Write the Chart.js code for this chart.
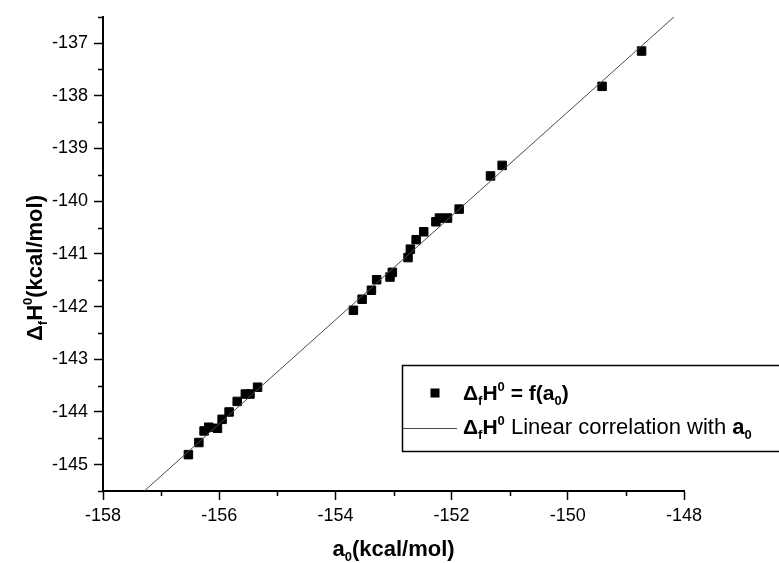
<!DOCTYPE html>
<html>
<head>
<meta charset="utf-8">
<script src="https://cdn.jsdelivr.net/npm/chart.js@4.4.1/dist/chart.umd.min.js"></script>
<style>
  html, body { margin: 0; padding: 0; background: #fff; }
  canvas { display: block; }
</style>
</head>
<body>
<canvas id="chart" width="779" height="563"></canvas>
<script>
// measured points: a0 vs formation enthalpy (kcal/mol)
const a0 = [-156.53, -156.35, -156.26, -156.18, -156.03, -155.95, -155.83, -155.69, -155.55, -155.47,
  -155.34, -153.69, -153.54, -153.38, -153.29, -153.06, -153.02, -152.75, -152.71, -152.61,
  -152.48, -152.27, -152.21, -152.07, -151.87, -151.33, -151.13, -149.41, -148.73];
const dHf = [-144.81, -144.58, -144.36, -144.29, -144.31, -144.14, -144.00, -143.80, -143.66, -143.66,
  -143.53, -142.07, -141.86, -141.69, -141.49, -141.44, -141.35, -141.07, -140.91, -140.73,
  -140.58, -140.39, -140.32, -140.32, -140.15, -139.52, -139.32, -137.82, -137.15];

// linear fit, ends of the drawn segment
const fitX = [-157.29, -148.17];
const fitY = [-145.5, -136.5];

const xTicks = [-158, -156, -154, -152, -150, -148];
const xMinor = [-157, -155, -153, -151, -149];
const yTicks = [-145, -144, -143, -142, -141, -140, -139, -138, -137];
const yMinor = [-145.5, -144.5, -143.5, -142.5, -141.5, -140.5, -139.5, -138.5, -137.5, -136.5];

const FONT = '"Liberation Sans", Arial, sans-serif';
const LINE_COLOR = '#4a4a4a';

// draw a list of text pieces (with sub/superscripts) starting at x
function drawRuns(ctx, runs, x, y) {
  let cx = x;
  for (const r of runs) {
    ctx.font = (r.bold ? 'bold ' : '') + r.size + 'px ' + FONT;
    ctx.fillText(r.t, cx, y + (r.dy || 0));
    cx += ctx.measureText(r.t).width;
  }
  return cx;
}
function runsWidth(ctx, runs) {
  let w = 0;
  for (const r of runs) {
    ctx.font = (r.bold ? 'bold ' : '') + r.size + 'px ' + FONT;
    w += ctx.measureText(r.t).width;
  }
  return w;
}

const extras = {
  id: 'extras',
  afterDraw(chart) {
    const ctx = chart.ctx;
    const xs = chart.scales.x, ys = chart.scales.y;
    const area = chart.chartArea;
    ctx.save();
    ctx.strokeStyle = '#000';
    ctx.lineWidth = 1.5;
    // minor ticks
    ctx.beginPath();
    for (const v of xMinor) {
      const p = Math.round(xs.getPixelForValue(v)) + 0.5;
      ctx.moveTo(p, area.bottom);
      ctx.lineTo(p, area.bottom + 5);
    }
    for (const v of yMinor) {
      const p = Math.round(ys.getPixelForValue(v)) + 0.5;
      ctx.moveTo(area.left - 5, p);
      ctx.lineTo(area.left, p);
    }
    ctx.stroke();

    ctx.fillStyle = '#000';
    ctx.textBaseline = 'alphabetic';
    ctx.textAlign = 'left';

    // x title
    const xt = [
      { t: 'a', size: 22, bold: true },
      { t: '0', size: 13, bold: true, dy: 5 },
      { t: '(kcal/mol)', size: 22, bold: true }
    ];
    const xc = (area.left + area.right) / 2;
    drawRuns(ctx, xt, xc - runsWidth(ctx, xt) / 2, 556);

    // y title, rotated
    const yt = [
      { t: '\u0394', size: 22, bold: true },
      { t: 'f', size: 13, bold: true, dy: 5 },
      { t: 'H', size: 22, bold: true },
      { t: '0', size: 13, bold: true, dy: -10 },
      { t: '(kcal/mol)', size: 22, bold: true }
    ];
    ctx.save();
    ctx.translate(42, 268);
    ctx.rotate(-Math.PI / 2);
    drawRuns(ctx, yt, -runsWidth(ctx, yt) / 2, 0);
    ctx.restore();

    // legend box
    ctx.lineWidth = 1.5;
    ctx.strokeRect(402.5, 365.5, 400, 86);
    ctx.fillRect(430.5, 388.5, 9, 9);
    drawRuns(ctx, [
      { t: '\u0394', size: 21, bold: true },
      { t: 'f', size: 13, bold: true, dy: 5 },
      { t: 'H', size: 21, bold: true },
      { t: '0', size: 13, bold: true, dy: -9 },
      { t: ' = f(a', size: 21, bold: true },
      { t: '0', size: 13, bold: true, dy: 5 },
      { t: ')', size: 21, bold: true }
    ], 463, 400);
    ctx.strokeStyle = LINE_COLOR;
    ctx.lineWidth = 1;
    ctx.beginPath();
    ctx.moveTo(403, 428.5);
    ctx.lineTo(457, 428.5);
    ctx.stroke();
    drawRuns(ctx, [
      { t: '\u0394', size: 21, bold: true },
      { t: 'f', size: 13, bold: true, dy: 5 },
      { t: 'H', size: 21, bold: true },
      { t: '0', size: 13, bold: true, dy: -9 },
      { t: ' Linear correlation with ', size: 22 },
      { t: 'a', size: 22, bold: true },
      { t: '0', size: 13, bold: true, dy: 5 }
    ], 463, 434);
    ctx.restore();
  }
};

const axisCommon = {
  type: 'linear',
  grid: { drawOnChartArea: false, drawTicks: true, tickLength: 9, tickWidth: 1.5, tickColor: '#000' },
  border: { display: true, color: '#000', width: 2 },
  ticks: { color: '#000', font: { family: FONT, size: 18 }, autoSkip: false, maxRotation: 0, padding: 5 },
  title: { display: false }
};

new Chart(document.getElementById('chart'), {
  type: 'scatter',
  data: {
    datasets: [
      {
        label: 'fit',
        type: 'line',
        data: fitX.map((x, i) => ({ x: x, y: fitY[i] })),
        borderColor: LINE_COLOR,
        borderWidth: 1,
        pointRadius: 0,
        fill: false,
        order: 0
      },
      {
        label: 'points',
        data: a0.map((x, i) => ({ x: x, y: dHf[i] })),
        pointStyle: 'rect',
        pointRadius: 6,
        pointBackgroundColor: '#000',
        pointBorderColor: '#000',
        pointBorderWidth: 1,
        order: 1
      }
    ]
  },
  options: {
    responsive: false,
    devicePixelRatio: 1,
    animation: false,
    layout: { padding: { top: 13, right: 95, left: 0, bottom: 0 } },
    plugins: { legend: { display: false }, tooltip: { enabled: false } },
    scales: {
      x: Object.assign({}, axisCommon, {
        min: -158, max: -148,
        afterBuildTicks: s => { s.ticks = xTicks.map(v => ({ value: v })); },
        afterFit: s => { s.height = 72; }
      }),
      y: Object.assign({}, axisCommon, {
        min: -145.5, max: -136.5,
        ticks: Object.assign({}, axisCommon.ticks, { padding: 6 }),
        afterBuildTicks: s => { s.ticks = yTicks.map(v => ({ value: v })); },
        afterFit: s => { s.width = 103; }
      })
    }
  },
  plugins: [extras]
});
</script>
</body>
</html>
